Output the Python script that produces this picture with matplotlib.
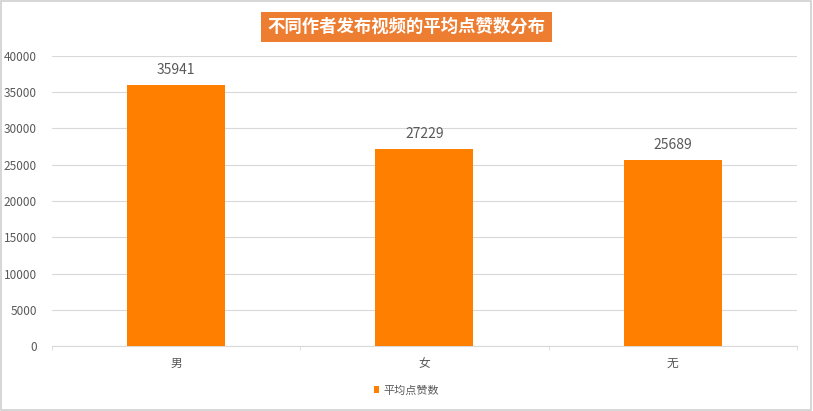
import matplotlib.pyplot as plt
import numpy as np

plt.rcParams['font.family'] = ['Noto Sans CJK SC', 'DejaVu Sans']

# 数据
categories = ['男', '女', '无']
likes = [35941, 27229, 25689]
y_ticks = [0, 5000, 10000, 15000, 20000, 25000, 30000, 35000, 40000]

bar_color = '#FF7F00'
text_gray = '#595959'
grid_gray = '#D9D9D9'

fig = plt.figure(figsize=(8.13, 4.11), dpi=100)
ax = fig.add_axes([0.064, 0.158, 0.916, 0.706])

x = np.arange(len(categories))
bars = ax.bar(x, likes, width=0.395, color=bar_color, label='平均点赞数', zorder=3)

for b, v in zip(bars, likes):
    ax.text(b.get_x() + b.get_width() / 2, v + 1100, str(v),
            ha='center', va='bottom', fontsize=10, color=text_gray)

ax.set_xlim(-0.5, len(categories) - 0.5)
ax.set_ylim(0, 40000)
ax.set_yticks(y_ticks)
ax.set_yticklabels([str(t) for t in y_ticks], fontsize=8.5, color=text_gray)
ax.set_xticks(x)
ax.set_xticklabels(categories, fontsize=8.5, color=text_gray)
ax.tick_params(axis='y', length=0, pad=11)
ax.tick_params(axis='x', length=0, pad=8)

# 分类边界的小刻度
ax.set_xticks(np.arange(-0.5, len(categories)), minor=True)
ax.tick_params(axis='x', which='minor', length=3, color=grid_gray)

ax.grid(axis='y', color=grid_gray, linewidth=0.8, zorder=0)
for s in ['top', 'right', 'left']:
    ax.spines[s].set_visible(False)
ax.spines['bottom'].set_color(grid_gray)

# 标题
fig.text(0.5, 0.934, '不同作者发布视频的平均点赞数分布', ha='center', va='center',
         fontsize=12.5, fontweight='bold', color='white',
         bbox=dict(boxstyle='square,pad=0.35', facecolor='#ED7D31', edgecolor='none'))

# 图例
fig.legend(handles=[bars], labels=['平均点赞数'], loc='center', bbox_to_anchor=(0.5, 0.05),
           frameon=False, fontsize=8, labelcolor=text_gray,
           handlelength=0.5, handleheight=0.5, handletextpad=0.4)

# 外边框
fig.patches.append(plt.Rectangle((0.001, 0.002), 0.997, 0.996, transform=fig.transFigure,
                                 fill=False, edgecolor='#D0D0D0', linewidth=1.2))

fig.savefig('out.png', dpi=100)
